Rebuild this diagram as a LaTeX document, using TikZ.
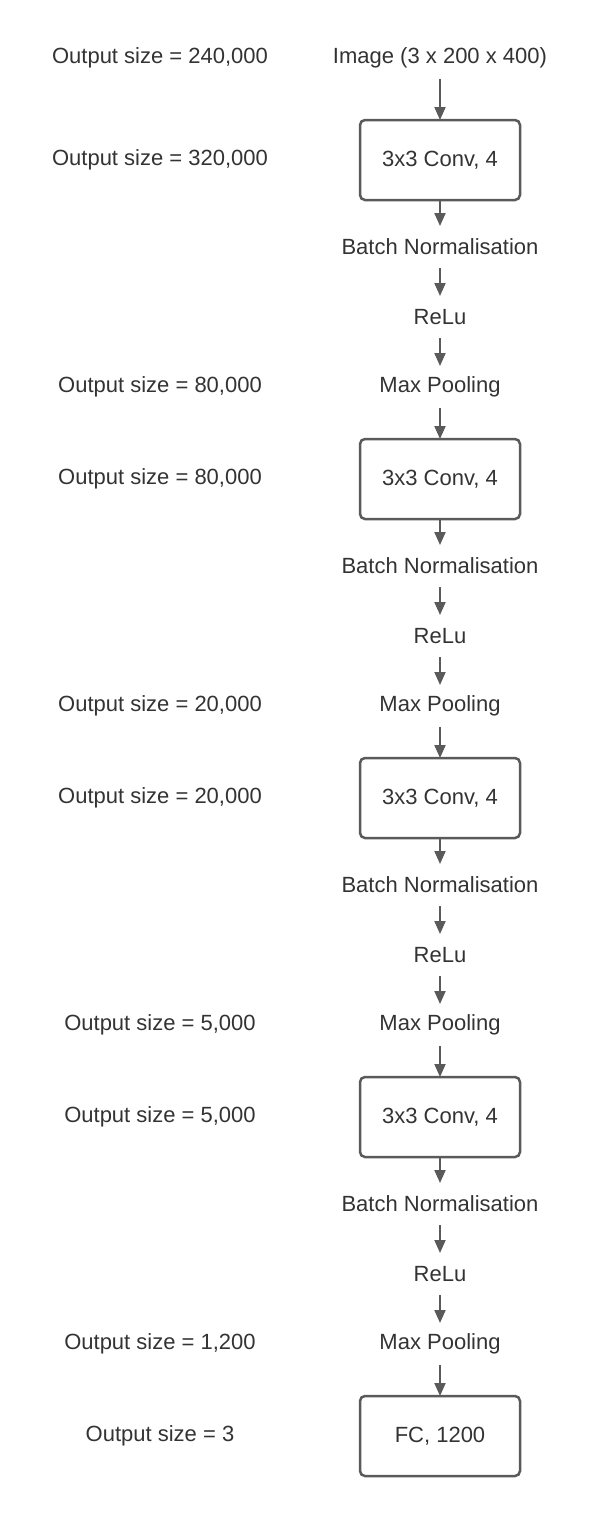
\documentclass[tikz,border=0pt]{standalone}
\usepackage{fontspec}
\setmainfont{Liberation Sans}
\usetikzlibrary{positioning,arrows.meta}
\definecolor{flowgray}{HTML}{5A5A5A}
\definecolor{textgray}{HTML}{333333}

\begin{document}
\begin{tikzpicture}[
x=1pt, y=-1pt,
font=\fontsize{22}{26}\selectfont,
every node/.style={text=textgray},
layer/.style={draw=flowgray, line width=2.5pt, rounded corners=5pt, minimum width=160pt, minimum height=80pt, inner sep=0pt, outer sep=0pt},
stage/.style={minimum height=42pt, inner sep=0pt, outer sep=0pt},
outsize/.style={inner sep=0pt},
arrow/.style={-{Triangle[length=13pt, width=11pt]}, line width=2pt, flowgray}
]
\useasboundingbox (0,0) rectangle (600,1519);
\node[stage] (img) at (440,58) {Image (3 x 200 x 400)};
\node[layer, below=41pt of img] (c1) {3x3 Conv, 4};
\node[stage, below=26pt of c1] (bn1) {Batch Normalisation};
\node[stage, below=28pt of bn1] (re1) {ReLu};
\node[stage, below=28pt of re1] (mp1) {Max Pooling};
\node[layer, below=31pt of mp1] (c2) {3x3 Conv, 4};
\node[stage, below=26pt of c2] (bn2) {Batch Normalisation};
\node[stage, below=28pt of bn2] (re2) {ReLu};
\node[stage, below=28pt of re2] (mp2) {Max Pooling};
\node[layer, below=31pt of mp2] (c3) {3x3 Conv, 4};
\node[stage, below=26pt of c3] (bn3) {Batch Normalisation};
\node[stage, below=28pt of bn3] (re3) {ReLu};
\node[stage, below=28pt of re3] (mp3) {Max Pooling};
\node[layer, below=31pt of mp3] (c4) {3x3 Conv, 4};
\node[stage, below=26pt of c4] (bn4) {Batch Normalisation};
\node[stage, below=28pt of bn4] (re4) {ReLu};
\node[stage, below=28pt of re4] (mp4) {Max Pooling};
\node[layer, below=31pt of mp4] (fc) {FC, 1200};
\draw[arrow] (img)--(c1);
\draw[arrow] (c1)--(bn1);
\draw[arrow] (bn1)--(re1);
\draw[arrow] (re1)--(mp1);
\draw[arrow] (mp1)--(c2);
\draw[arrow] (c2)--(bn2);
\draw[arrow] (bn2)--(re2);
\draw[arrow] (re2)--(mp2);
\draw[arrow] (mp2)--(c3);
\draw[arrow] (c3)--(bn3);
\draw[arrow] (bn3)--(re3);
\draw[arrow] (re3)--(mp3);
\draw[arrow] (mp3)--(c4);
\draw[arrow] (c4)--(bn4);
\draw[arrow] (bn4)--(re4);
\draw[arrow] (re4)--(mp4);
\draw[arrow] (mp4)--(fc);
% output sizes on the left
\coordinate (lft) at (160,0);
\node[outsize] (o0) at (lft |- img) {Output size = 240,000};
\node[outsize] (o1) at (lft |- c1) {Output size = 320,000};
\node[outsize] (o2) at (lft |- mp1) {Output size = 80,000};
\node[outsize] (o3) at (lft |- c2) {Output size = 80,000};
\node[outsize] (o4) at (lft |- mp2) {Output size = 20,000};
\node[outsize] (o5) at (lft |- c3) {Output size = 20,000};
\node[outsize] (o6) at (lft |- mp3) {Output size = 5,000};
\node[outsize] (o7) at (lft |- c4) {Output size = 5,000};
\node[outsize] (o8) at (lft |- mp4) {Output size = 1,200};
\node[outsize] (o9) at (lft |- fc) {Output size = 3};
\end{tikzpicture}
\end{document}
